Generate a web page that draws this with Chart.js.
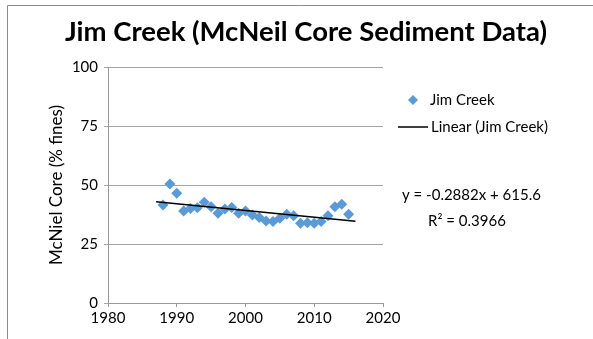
<!DOCTYPE html>
<html>
<head>
<meta charset="utf-8">
<script src="https://cdn.jsdelivr.net/npm/chart.js@4"></script>
<style>
  html, body { margin: 0; padding: 0; background: #fff; }
  #wrap { width: 593px; height: 339px; position: relative; }
</style>
</head>
<body>
<div id="wrap"><canvas id="creekChart" width="593" height="339"></canvas></div>
<script>
const years = [1988, 1989, 1990, 1991, 1992, 1993, 1994, 1995, 1996, 1997, 1998, 1999, 2000, 2001,
  2002, 2003, 2004, 2005, 2006, 2007, 2008, 2009, 2010, 2011, 2012, 2013, 2014, 2015];
const fines = [41.5, 50.4, 46.5, 39, 40, 40.4, 42.7, 40.8, 38, 39.8, 40.5, 38, 39, 37.3,
  36.2, 34.7, 34.5, 35.9, 37.6, 37, 33.8, 34, 33.8, 34.5, 37, 40.8, 41.8, 37.6];
const trendSlope = -0.2882;
const trendIntercept = 615.6;
const trendRange = [1987, 2016];
const rSquared = '0.3966';
const yTicks = [0, 25, 50, 75, 100];

const fontName = 'Lato, "Open Sans", sans-serif';
const pointColor = '#5b9bd5';

const scatterPoints = years.map((yr, i) => ({ x: yr, y: fines[i] }));
const trendPoints = trendRange.map(yr => ({ x: yr, y: trendSlope * yr + trendIntercept }));

// draws frame, title, legend and the trend equation
const extras = {
  id: 'extras',
  beforeDraw(chart) {
    const ctx = chart.ctx;
    ctx.save();
    ctx.fillStyle = '#fff';
    ctx.fillRect(0, 0, chart.width, chart.height);
    ctx.strokeStyle = '#8c8c8c';
    ctx.lineWidth = 1;
    ctx.beginPath();
    ctx.moveTo(7.5, chart.height);
    ctx.lineTo(7.5, 5.5);
    ctx.lineTo(chart.width, 5.5);
    ctx.stroke();
    ctx.restore();
  },
  afterDraw(chart) {
    const ctx = chart.ctx;
    const ds = chart.data.datasets;
    ctx.save();
    ctx.fillStyle = '#000';
    ctx.textBaseline = 'middle';
    ctx.font = 'bold 27.5px ' + fontName;
    ctx.textAlign = 'center';
    ctx.fillText('Jim Creek (McNeil Core Sediment Data)', 306, 32);

    ctx.textAlign = 'left';
    ctx.font = '15px ' + fontName;
    // legend: diamond marker
    ctx.fillStyle = pointColor;
    ctx.beginPath();
    ctx.moveTo(413, 95); ctx.lineTo(418, 100); ctx.lineTo(413, 105); ctx.lineTo(408, 100);
    ctx.closePath();
    ctx.fill();
    ctx.fillStyle = '#000';
    ctx.fillText(ds[0].label, 430, 100);
    // legend: trend line
    ctx.strokeStyle = '#000';
    ctx.lineWidth = 1.5;
    ctx.beginPath();
    ctx.moveTo(398, 127); ctx.lineTo(428, 127);
    ctx.stroke();
    ctx.fillText(ds[1].label, 431, 127);

    const sign = trendIntercept >= 0 ? ' + ' : ' - ';
    ctx.fillText('y = ' + trendSlope + 'x' + sign + Math.abs(trendIntercept), 402, 195);
    ctx.fillText('R\u00b2 = ' + rSquared, 428, 221);
    ctx.restore();
  }
};

const creekChart = new Chart(document.querySelector('#creekChart'), {
  type: 'scatter',
  data: {
    datasets: [{
      label: 'Jim Creek',
      data: scatterPoints,
      pointStyle: 'rectRot',
      pointRadius: 5.5,
      pointHoverRadius: 5.5,
      backgroundColor: pointColor,
      borderColor: pointColor,
      borderWidth: 0,
      order: 2
    }, {
      label: 'Linear (Jim Creek)',
      type: 'line',
      data: trendPoints,
      borderColor: '#000',
      borderWidth: 1.5,
      pointRadius: 0,
      fill: false,
      order: 1
    }]
  },
  options: {
    responsive: false,
    animation: false,
    layout: { padding: { left: 0, right: 210, top: 67, bottom: 0 } },
    plugins: {
      legend: { display: false },
      title: { display: false },
      tooltip: { enabled: false }
    },
    scales: {
      x: {
        type: 'linear',
        min: 1980,
        max: 2020,
        afterFit: s => { s.height = 36; },
        ticks: { stepSize: 10, color: '#000', font: { family: fontName, size: 15 }, padding: 2, callback: v => String(v) },
        grid: { drawOnChartArea: false, tickLength: 4, color: '#999' },
        border: { color: '#999' }
      },
      y: {
        min: 0,
        max: 100,
        afterFit: s => { s.width = 108; },
        afterBuildTicks: s => { s.ticks = yTicks.map(v => ({ value: v })); },
        ticks: { color: '#000', font: { family: fontName, size: 15 }, padding: 6 },
        grid: { color: '#a6a6a6', tickLength: 4 },
        border: { color: '#999' },
        title: {
          display: true,
          text: 'McNiel Core (% fines)',
          color: '#000',
          font: { family: fontName, size: 17 },
          padding: { top: 46 }
        }
      }
    }
  },
  plugins: [extras]
});
</script>
</body>
</html>
